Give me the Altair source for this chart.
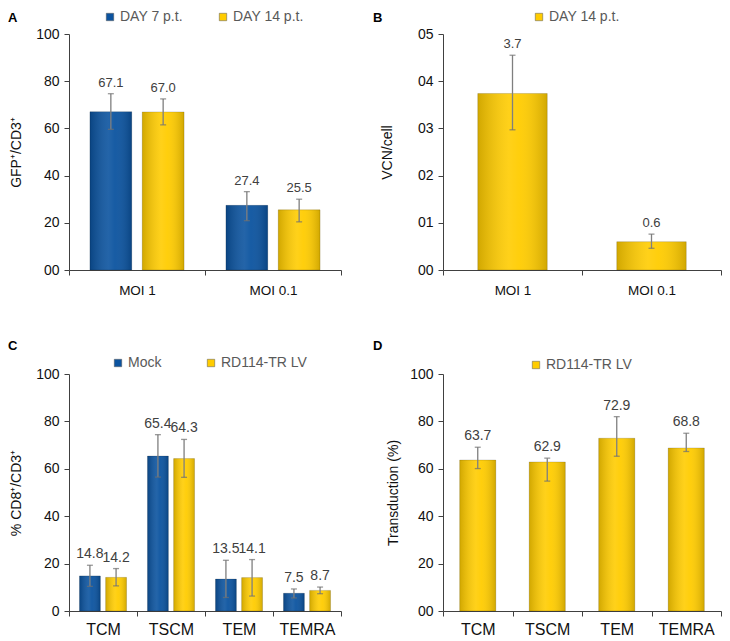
import altair as alt
import pandas as pd

FONT = "Liberation Sans"
BLUE = "#0b539f"
YELLOW = "#ffcc00"

# ---------------- data ----------------
a_cats = ["MOI 1", "MOI 0.1"]
a_series = ["DAY 7 p.t.", "DAY 14 p.t."]
a_day7 = [67.1, 27.4]
a_day7_lo = [59.6, 20.9]
a_day7_hi = [74.7, 33.2]
a_day14 = [67.0, 25.5]
a_day14_lo = [61.5, 20.4]
a_day14_hi = [72.5, 30.0]

b_cats = ["MOI 1", "MOI 0.1"]
b_series = ["DAY 14 p.t."]
b_vals = [3.74, 0.6]
b_lo = [2.97, 0.46]
b_hi = [4.55, 0.76]

c_cats = ["TCM", "TSCM", "TEM", "TEMRA"]
c_series = ["Mock", "RD114-TR LV"]
c_mock = [14.8, 65.4, 13.5, 7.5]
c_mock_lo = [10.4, 56.5, 5.7, 5.5]
c_mock_hi = [19.3, 74.4, 21.4, 9.3]
c_rd = [14.2, 64.3, 14.1, 8.7]
c_rd_lo = [10.6, 56.4, 6.3, 7.3]
c_rd_hi = [17.9, 72.4, 21.7, 10.1]

d_cats = ["TCM", "TSCM", "TEM", "TEMRA"]
d_series = ["RD114-TR LV"]
d_vals = [63.7, 62.9, 72.9, 68.8]
d_lo = [60.1, 54.8, 65.3, 67.3]
d_hi = [69.1, 64.5, 82.0, 75.0]


def frame(cats, series_list, vals, los, his):
    rows = []
    for s, v, lo, hi in zip(series_list, vals, los, his):
        for c, vv, l, h in zip(cats, v, lo, hi):
            rows.append({"cat": c, "series": s, "val": vv, "lo": l, "hi": h})
    return pd.DataFrame(rows)


dfA = frame(a_cats, a_series, [a_day7, a_day14], [a_day7_lo, a_day14_lo], [a_day7_hi, a_day14_hi])
dfB = frame(b_cats, b_series, [b_vals], [b_lo], [b_hi])
dfC = frame(c_cats, c_series, [c_mock, c_rd], [c_mock_lo, c_rd_lo], [c_mock_hi, c_rd_hi])
dfD = frame(d_cats, d_series, [d_vals], [d_lo], [d_hi])

SHADE = alt.LinearGradient(
    gradient="linear", x1=0, x2=1, y1=0, y2=0,
    stops=[
        alt.GradientStop(color="rgba(0,0,0,0.18)", offset=0),
        alt.GradientStop(color="rgba(255,255,255,0.10)", offset=0.45),
        alt.GradientStop(color="rgba(255,255,255,0.05)", offset=0.6),
        alt.GradientStop(color="rgba(0,0,0,0.18)", offset=1),
    ],
)


def panel(df, cats, series, colors, ymax, ystep, yfmt, ytitle, title_x, letter,
          letter_x, letter_y, legend_x, legend_y, colpad, width, height,
          xlab_size, xlab_pad, ylab_size, val_size, band=None):
    xaxis = alt.Axis(title=None, tickBand="extent", labelFontSize=xlab_size,
                     labelPadding=xlab_pad, labelFont=FONT, labelColor="#111111",
                     tickSize=5, labelAngle=0)
    x = alt.X("cat:N", sort=cats, scale=alt.Scale(paddingInner=0, paddingOuter=0), axis=xaxis)
    enc = {"x": x}
    if band is None:
        enc["xOffset"] = alt.XOffset("series:N", sort=series,
                                     scale=alt.Scale(paddingInner=0.2, paddingOuter=0.4))
    yscale = alt.Scale(domain=[0, ymax], nice=False)
    yaxis = alt.Axis(title=ytitle, titleX=title_x, titleY=height / 2, titleAngle=-90,
                     titleBaseline="alphabetic", titleFont=FONT, titleFontSize=14,
                     titleFontWeight="normal", titleColor="#111111",
                     values=list(range(0, ymax + 1, ystep)),
                     format=yfmt, labelFontSize=ylab_size, labelFont=FONT,
                     labelColor="#111111", labelPadding=5, tickSize=5, grid=False)

    def Y(field):
        return alt.Y(field, scale=yscale, axis=yaxis, title=ytitle)

    base = alt.Chart(df)
    bar_kw = {}
    if band is not None:
        bar_kw["width"] = alt.RelativeBandSize(band)
    bars = base.mark_bar(**bar_kw).encode(
        y=Y("val:Q"),
        color=alt.Color("series:N", sort=series,
                        scale=alt.Scale(domain=series, range=colors),
                        legend=alt.Legend(orient="none", legendX=legend_x, legendY=legend_y,
                                          direction="horizontal", title=None,
                                          symbolType="square", symbolSize=55,
                                          symbolStrokeColor="#555555", symbolStrokeWidth=0.5,
                                          labelFontSize=14, labelFont=FONT,
                                          labelColor="#595959", columnPadding=colpad,
                                          labelOffset=3, padding=0)),
        **enc,
    )
    shade = base.mark_bar(fill=SHADE, stroke="rgba(0,0,0,0.25)", strokeWidth=0.6, **bar_kw).encode(
        y=Y("val:Q"), **enc)
    rule = base.mark_rule(color="#7f7f7f", strokeWidth=1.3).encode(
        y=Y("lo:Q"), y2="hi:Q", **enc)
    cap_lo = base.mark_tick(color="#6f6f6f", size=6, thickness=1.3).encode(
        y=Y("lo:Q"), **enc)
    cap_hi = base.mark_tick(color="#6f6f6f", size=6, thickness=1.3).encode(
        y=Y("hi:Q"), **enc)
    labels = base.mark_text(baseline="alphabetic", dy=-7, fontSize=val_size, font=FONT,
                            color="#404040").encode(
        y=Y("hi:Q"),
        text=alt.Text("val:Q", format=".1f"), **enc)
    let = alt.Chart(pd.DataFrame({"t": [letter]})).mark_text(
        align="left", baseline="top", fontWeight="bold", fontSize=13, font=FONT,
        color="#000000").encode(x=alt.value(letter_x), y=alt.value(letter_y), text="t:N")
    return alt.layer(bars, shade, rule, cap_lo, cap_hi, labels, let).properties(
        width=width, height=height)


A = panel(dfA, a_cats, a_series, [BLUE, YELLOW], 100, 20, "02d", "GFP\u207a/CD3\u207a",
          -49, "A", -61, -22, 34, -24, 33, 272, 236, 13.5, 8, 14, 13)
B = panel(dfB, b_cats, b_series, [YELLOW], 5, 1, "02d", "VCN/cell",
          -52, "B", -70, -22, 89, -24, 33, 278, 236, 13.5, 8, 14, 13, band=0.5)
C = panel(dfC, c_cats, c_series, [BLUE, YELLOW], 100, 20, "d", "% CD8\u207a/CD3\u207a",
          -49, "C", -61, -34, 42, -18, 42, 272, 237, 16, 5, 14, 14)
D = panel(dfD, d_cats, d_series, [YELLOW], 100, 20, "02d", "Transduction (%)",
          -46, "D", -70, -34, 86, -16, 33, 278, 237, 16, 5, 14, 14, band=0.52)

chart = alt.concat(A, B, C, D, columns=2, spacing={"row": 43, "column": 31}).resolve_scale(
    color="independent", xOffset="independent", x="independent", y="independent"
).resolve_legend(color="independent").properties(
    padding={"top": 2, "left": 0, "right": 0, "bottom": 0}, align="each", bounds="full"
).configure_view(stroke=None).configure_axis(
    domainColor="#404040", tickColor="#404040", domainWidth=1, tickWidth=1
)

chart.save("out.html", embed_options={"renderer": "svg", "actions": False})
